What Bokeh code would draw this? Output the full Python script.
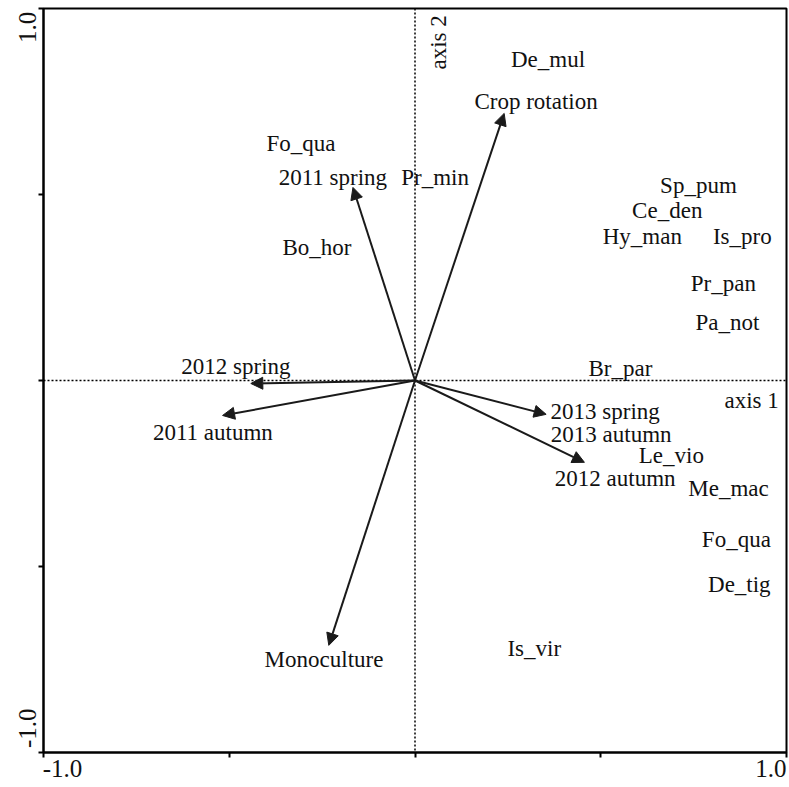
import math
from bokeh.plotting import figure
from bokeh.models import (ColumnDataSource, Span, Arrow, NormalHead, LinearAxis,
                          FixedTicker, Range1d)
from bokeh.core.properties import value
from bokeh.embed import file_html
from bokeh.resources import INLINE

# ---- data ----
arrow_names = ["Crop rotation", "2011 spring", "2012 spring", "2011 autumn",
               "2013 spring", "2012 autumn", "Monoculture"]
arrow_x = [0.240, -0.167, -0.442, -0.518, 0.353, 0.456, -0.232]
arrow_y = [0.718, 0.519, -0.008, -0.094, -0.091, -0.220, -0.712]

label_names = ["De_mul", "Crop rotation", "Fo_qua", "2011 spring", "Pr_min", "Bo_hor",
               "Sp_pum", "Ce_den", "Hy_man", "Is_pro", "Pr_pan", "Pa_not",
               "2012 spring", "Br_par", "axis 1", "2011 autumn", "2013 spring",
               "2013 autumn", "Le_vio", "2012 autumn", "Me_mac", "Fo_qua",
               "De_tig", "Is_vir", "Monoculture"]
label_x = [0.358, 0.326, -0.307, -0.221, 0.054, -0.264,
           0.763, 0.679, 0.612, 0.881, 0.830, 0.841,
           -0.482, 0.553, 0.906, -0.544, 0.512,
           0.528, 0.690, 0.539, 0.844, 0.865,
           0.873, 0.321, -0.245]
label_y = [0.863, 0.750, 0.637, 0.546, 0.546, 0.358,
           0.524, 0.457, 0.387, 0.387, 0.261, 0.156,
           0.038, 0.032, -0.054, -0.140, -0.083,
           -0.145, -0.202, -0.263, -0.290, -0.427,
           -0.548, -0.720, -0.750]

axis2_label = "axis 2"
axis2_x = [0.062]
axis2_y = [0.909]

tick_values = [-1.0, -0.5, 0.0, 0.5, 1.0]
x_tick_label_pos = [-0.949, 0.958]
y_tick_label_pos = [-0.935, 0.949]
tick_label_text = ["-1.0", "1.0"]

FONT = "Liberation Serif"
FS = "23px"
TICK_FS = "25px"

p = figure(width=789, height=787, output_backend="svg", toolbar_location=None,
           x_range=Range1d(-1, 1), y_range=Range1d(-1, 1),
           min_border_left=43, min_border_right=3, min_border_top=8, min_border_bottom=35)
p.grid.visible = False
p.outline_line_color = "black"
p.outline_line_width = 2
p.background_fill_color = "white"

for ax in (p.xaxis[0], p.yaxis[0]):
    ax.ticker = FixedTicker(ticks=tick_values)
    ax.major_label_text_alpha = 0.0
    ax.major_label_text_font_size = "1px"
    ax.major_label_standoff = 0
    ax.major_tick_out = 5
    ax.major_tick_in = 0
    ax.minor_tick_out = 0
    ax.minor_tick_in = 0
    ax.axis_line_width = 2
    ax.major_tick_line_width = 2
    ax.axis_line_color = "black"
    ax.major_tick_line_color = "black"

xlab = LinearAxis(ticker=FixedTicker(ticks=x_tick_label_pos),
                  major_label_overrides=dict(zip(x_tick_label_pos, tick_label_text)))
ylab = LinearAxis(ticker=FixedTicker(ticks=y_tick_label_pos),
                  major_label_overrides=dict(zip(y_tick_label_pos, tick_label_text)),
                  major_label_orientation="vertical")
for ax in (xlab, ylab):
    ax.axis_line_color = None
    ax.major_tick_line_color = None
    ax.minor_tick_line_color = None
    ax.major_tick_out = 0
    ax.major_tick_in = 0
    ax.major_label_standoff = 2
    ax.major_label_text_font = FONT
    ax.major_label_text_font_size = TICK_FS
    ax.major_label_text_color = "#111111"
p.add_layout(xlab, "below")
p.add_layout(ylab, "left")

# dotted axes through origin
p.add_layout(Span(location=0, dimension="width", line_color="black",
                  line_dash="2 2", line_width=1.5))
p.add_layout(Span(location=0, dimension="height", line_color="black",
                  line_dash="2 2", line_width=1.5))

# arrows
asrc = ColumnDataSource(dict(x0=[0.0] * len(arrow_x), y0=[0.0] * len(arrow_y),
                             x1=arrow_x, y1=arrow_y))
p.add_layout(Arrow(end=NormalHead(size=12, fill_color="#1a1a1a", line_color="#1a1a1a"),
                   x_start="x0", y_start="y0", x_end="x1", y_end="y1",
                   source=asrc, line_color="#1a1a1a", line_width=2))

# labels
lsrc = ColumnDataSource(dict(x=label_x, y=label_y, t=label_names))
p.text(x="x", y="y", text="t", source=lsrc, text_font=value(FONT),
       text_font_size=FS, text_align="center", text_baseline="middle",
       text_color="#111111")

p.text(x=axis2_x, y=axis2_y, text=[axis2_label], angle=math.pi / 2,
       text_font=value(FONT), text_font_size=FS, text_align="center",
       text_baseline="middle", text_color="#111111")

open("out.html", "w").write(file_html(p, INLINE))
